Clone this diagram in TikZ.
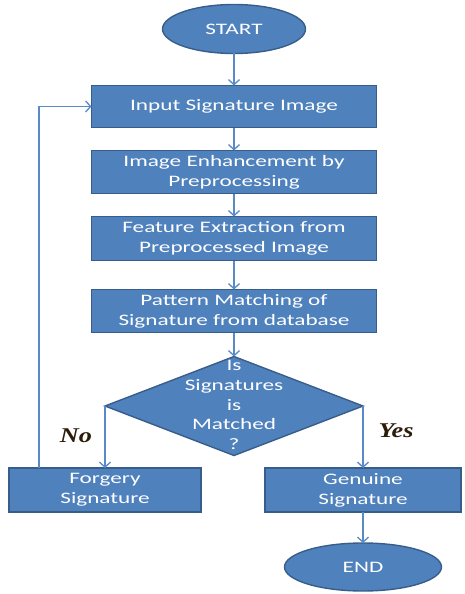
\documentclass[tikz,border=0pt]{standalone}
\usepackage{fontspec}
\usetikzlibrary{arrows.meta,calc,positioning,shapes.geometric}
\newfontfamily\boxfont[FakeStretch=1.45]{Carlito}
\newfontfamily\answerfont[FakeStretch=1.25]{Liberation Serif}
\definecolor{boxblue}{HTML}{4F81BD}
\definecolor{boxedge}{HTML}{385D8A}
\definecolor{linkblue}{HTML}{5A8AC6}
\definecolor{answerink}{HTML}{2B1D0A}
\tikzset{
  flow/.style={-{Straight Barb[length=5pt,width=11pt]}, line width=1.3pt, draw=linkblue},
  shade box/.style={draw=boxedge, line width=1.4pt, fill=boxblue, text=white, inner sep=0pt, outer sep=0pt,
    font=\boxfont\fontsize{16}{19.8}\selectfont},
  process/.style={shade box, rectangle, minimum width=285pt, minimum height=43pt, align=center},
  terminal/.style={shade box, ellipse, minimum width=143pt, minimum height=49pt},
  decision/.style={shade box, diamond, minimum width=258pt, minimum height=99pt},
  dectext/.style={text=white, align=center, font=\boxfont\fontsize{16}{19.6}\selectfont},
  answer/.style={font=\answerfont\bfseries\itshape\fontsize{21}{24}\selectfont, text=answerink}
}
\begin{document}
\begin{tikzpicture}
  \useasboundingbox (0,0) rectangle (464pt,-594pt);

  \node[terminal] (start) at (234pt,-29pt) {START};
  \node[process, below=32pt of start, minimum height=42pt] (input) {Input Signature Image};
  \node[process, below=23pt of input] (enhance) {Image Enhancement by\\Preprocessing};
  \node[process, below=23pt of enhance, minimum height=44pt] (feature) {Feature Extraction from\\Preprocessed Image};
  \node[process, below=29pt of feature] (match) {Pattern Matching of\\Signature from database};
  \node[decision, below=24pt of match] (dec) {};
  \node[dectext] (question) at ($(dec)+(0,1pt)$) {Is\\Signatures\\is\\Matched\\?};
  \node[process, below=62pt of dec.west, minimum width=192pt, minimum height=44pt] (forgery) {Forgery\\Signature};
  \node[process, below=62pt of dec.east, minimum width=196pt, minimum height=44pt] (genuine) {Genuine\\Signature};
  \node[terminal, below=31pt of genuine, minimum width=157pt, minimum height=48pt] (end) {END};

  \draw[flow] (start) -- (input);
  \draw[flow] (input) -- (enhance);
  \draw[flow] (enhance) -- (feature);
  \draw[flow] (feature) -- (match);
  \draw[flow] (match) -- (dec);
  \draw[flow] (dec.west) -- (forgery.north);
  \draw[flow] (dec.east) -- (genuine.north);
  \draw[flow] (genuine) -- (end);

  % loop back from the forgery branch
  \coordinate[right=30pt of forgery.north west] (loop);
  \draw[flow] (loop) |- (input.west);

  \node[answer] (no) at ($(dec.west)+(-29pt,-30pt)$) {No};
  \node[answer] (yes) at ($(dec.east)+(33pt,-25pt)$) {Yes};
\end{tikzpicture}
\end{document}
